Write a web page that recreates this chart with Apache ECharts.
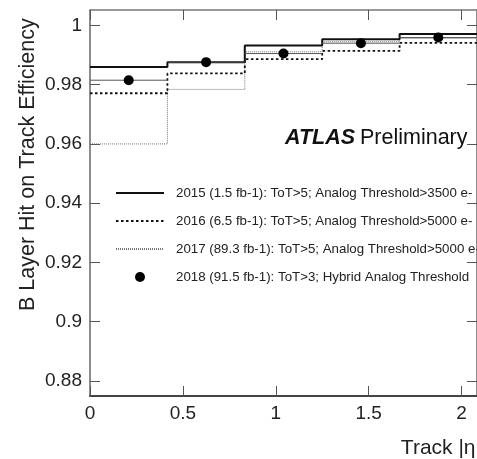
<!DOCTYPE html>
<html>
<head>
<meta charset="utf-8">
<script src="https://cdn.jsdelivr.net/npm/echarts@6/dist/echarts.min.js"></script>
<style>
  html, body { margin: 0; padding: 0; background: #fff; }
  #chart { width: 477px; height: 459px; }
</style>
</head>
<body>
<div id="chart"></div>
<script>
// bin edges in |eta|
var binEdges = [0, 0.4167, 0.8333, 1.25, 1.6667, 2.0833];
// efficiencies per bin
var eff2015 = [0.9860, 0.9876, 0.9932, 0.9953, 0.9971];
var eff2016 = [0.9771, 0.9838, 0.9886, 0.9914, 0.9941];
var eff2017 = [0.9600, 0.9784, 0.9911, 0.9945, 0.9956];
var eff2018 = [0.9815, 0.9876, 0.9905, 0.9940, 0.9959];

var xTicks = [0, 0.5, 1, 1.5, 2];
var yTicks = [0.88, 0.9, 0.92, 0.94, 0.96, 0.98, 1];

var names = [
  '2015 (1.5 fb-1): ToT>5; Analog Threshold>3500 e-',
  '2016 (6.5 fb-1): ToT>5; Analog Threshold>5000 e-',
  '2017 (89.3 fb-1): ToT>5; Analog Threshold>5000 e-',
  '2018 (91.5 fb-1): ToT>3; Hybrid Analog Threshold'
];

var FONT = "'Liberation Sans', Arial, Helvetica, sans-serif";

// histogram as step points: one per bin low edge, plus the last high edge
function stepData(vals) {
  var out = [];
  vals.forEach(function (v, i) { out.push([binEdges[i], v]); });
  out.push([binEdges[vals.length], vals[vals.length - 1]]);
  return out;
}

var pts2018 = eff2018.map(function (v, i) {
  return [binEdges[i], binEdges[i + 1], v];
});

var chart = echarts.init(document.getElementById('chart'));

var axisCommon = {
  type: 'value',
  axisLine: { show: true, onZero: false, lineStyle: { color: '#666', width: 1.5 } },
  axisTick: { show: true, inside: true, length: 10, lineStyle: { color: '#555', width: 1 } },
  splitLine: { show: false },
  axisLabel: { show: false }
};

var option = {
  animation: false,
  backgroundColor: '#fff',
  grid: { left: 90, top: 10, right: -2, bottom: 63, containLabel: false },
  xAxis: [
    Object.assign({}, axisCommon, {
      position: 'bottom', min: 0, max: 2.0833,
      axisLine: { show: true, onZero: false, lineStyle: { color: '#444', width: 2 } },
      axisTick: Object.assign({}, axisCommon.axisTick, { customValues: xTicks }),
      axisLabel: { show: true, customValues: xTicks, margin: 8, fontSize: 19, fontFamily: FONT, color: '#222' }
    }),
    Object.assign({}, axisCommon, {
      position: 'top', min: 0, max: 2.0833,
      axisLine: { show: true, onZero: false, lineStyle: { color: '#777', width: 1.5 } },
      axisTick: Object.assign({}, axisCommon.axisTick, { customValues: xTicks })
    })
  ],
  yAxis: [
    Object.assign({}, axisCommon, {
      position: 'left', min: 0.8749, max: 1.0052,
      axisTick: Object.assign({}, axisCommon.axisTick, { customValues: yTicks }),
      axisLabel: { show: true, customValues: yTicks, margin: 8, fontSize: 19, fontFamily: FONT, color: '#222' }
    }),
    Object.assign({}, axisCommon, {
      position: 'right', min: 0.8749, max: 1.0052,
      axisTick: Object.assign({}, axisCommon.axisTick, { customValues: yTicks })
    })
  ],
  legend: {
    orient: 'vertical',
    left: 110,
    top: 181,
    itemWidth: 48,
    itemHeight: 10,
    itemGap: 14,
    selectedMode: false,
    textStyle: { fontSize: 13.3, fontFamily: FONT, color: '#222', lineHeight: 14, padding: [0, 0, 0, 7] },
    data: [
      { name: names[0], itemStyle: { opacity: 0 } },
      { name: names[1], itemStyle: { opacity: 0 } },
      { name: names[2], itemStyle: { opacity: 0 } },
      { name: names[3], icon: 'circle' }
    ]
  },
  graphic: [
    {
      type: 'text',
      rotation: Math.PI / 2,
      x: 17, y: 311,
      style: {
        text: 'B Layer Hit on Track Efficiency',
        fontSize: 21.5, fontFamily: FONT, fill: '#222'
      }
    },
    {
      type: 'text', x: 481, y: 448,
      style: {
        text: 'Track |η|', fontSize: 21, fontFamily: FONT, fill: '#222',
        align: 'right', verticalAlign: 'middle'
      }
    },
    {
      type: 'text', x: 285, y: 138,
      style: {
        text: 'ATLAS', fontSize: 21.5, fontWeight: 'bold', fontStyle: 'italic',
        fontFamily: FONT, fill: '#111', verticalAlign: 'middle'
      }
    },
    {
      type: 'text', x: 360, y: 138,
      style: {
        text: 'Preliminary', fontSize: 21.5, fontFamily: FONT, fill: '#111',
        verticalAlign: 'middle'
      }
    }
  ],
  series: [
    {
      name: names[2], type: 'line', step: 'end', symbol: 'none', z: 2,
      data: stepData(eff2017),
      lineStyle: { color: '#777', width: 1, type: [1, 1] },
      itemStyle: { color: '#777' }
    },
    {
      name: names[1], type: 'line', step: 'end', symbol: 'none', z: 3,
      data: stepData(eff2016),
      lineStyle: { color: '#111', width: 1.8, type: [2.5, 2.5] },
      itemStyle: { color: '#111' }
    },
    {
      name: names[0], type: 'line', step: 'end', symbol: 'none', z: 4,
      data: stepData(eff2015),
      lineStyle: { color: '#111', width: 2 },
      itemStyle: { color: '#111' }
    },
    {
      name: names[3], type: 'custom', z: 5,
      itemStyle: { color: '#000' },
      encode: { x: [0, 1], y: 2 },
      data: pts2018,
      renderItem: function (params, api) {
        var lo = api.coord([api.value(0), api.value(2)]);
        var hi = api.coord([api.value(1), api.value(2)]);
        var mid = api.coord([(api.value(0) + api.value(1)) / 2, api.value(2)]);
        return {
          type: 'group',
          children: [
            { type: 'line', shape: { x1: lo[0], y1: lo[1], x2: hi[0], y2: hi[1] },
              style: { stroke: '#555', lineWidth: 1 } },
            { type: 'circle', shape: { cx: mid[0], cy: mid[1], r: 5 },
              style: { fill: '#000' } }
          ]
        };
      }
    }
  ]
};

chart.setOption(option);
</script>
</body>
</html>
